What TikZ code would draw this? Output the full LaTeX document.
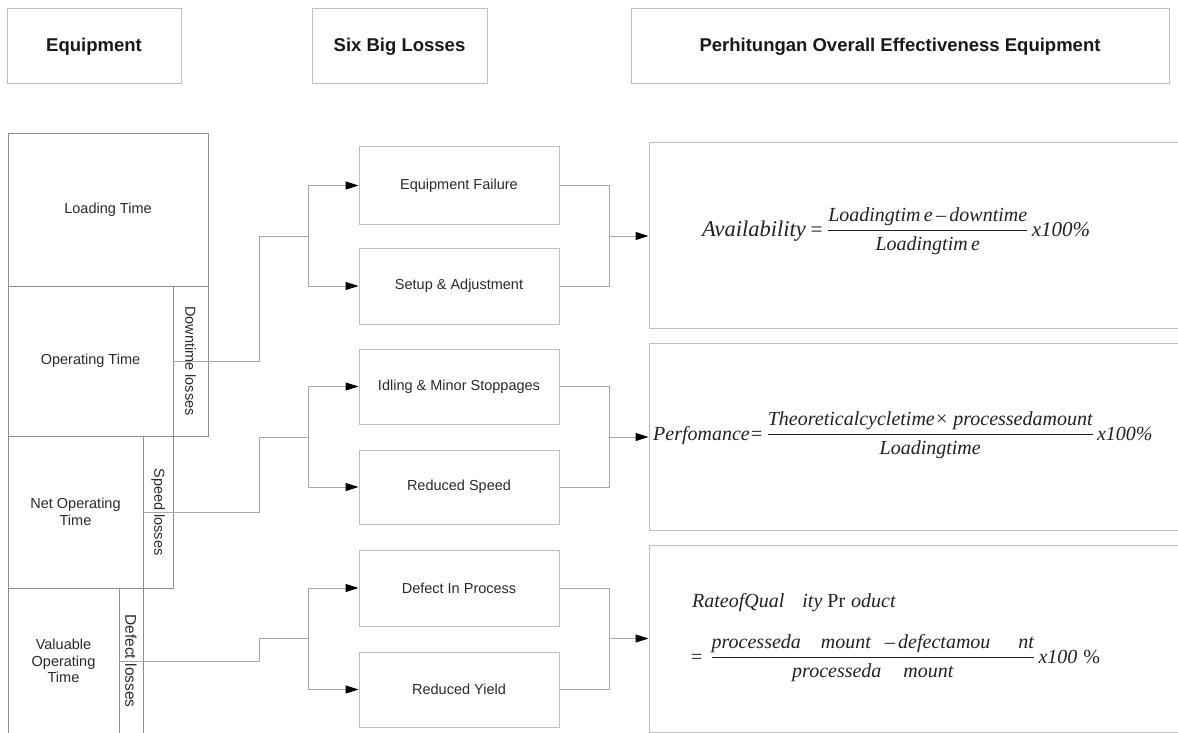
\documentclass[tikz,border=0pt]{standalone}
\usepackage{amsmath}
\usepackage{fontspec}
\setmainfont{Liberation Serif}
\setsansfont{Liberation Sans}
\usetikzlibrary{arrows.meta}
\definecolor{boxline}{HTML}{BDBDBD}
\definecolor{leftline}{HTML}{8C8C8C}
\definecolor{connline}{HTML}{A8A8A8}
\definecolor{txt}{HTML}{2A2A2A}
\definecolor{ftxt}{HTML}{222222}
\begin{document}
\begin{tikzpicture}[x=1pt,y=-1pt,
  hdr/.style={draw=boxline,line width=1pt,inner sep=0pt,font=\sffamily\bfseries\fontsize{18.5}{22}\selectfont,text=black!90},
  lbox/.style={draw=leftline,line width=1pt,inner sep=0pt,align=center,font=\sffamily\fontsize{14.5}{16.5}\selectfont,text=txt},
  mbox/.style={draw=boxline,line width=1pt,inner sep=0pt,font=\sffamily\fontsize{14.5}{17}\selectfont,text=txt},
  formbox/.style={draw=boxline,line width=1pt,inner sep=0pt},
  conn/.style={draw=connline,line width=1pt},
  arr/.style={conn,-{Triangle[length=13pt,width=8pt,color=black]}},
  ftext/.style={inner sep=0pt,text=ftxt,font=\fontsize{20}{24}\selectfont\itshape}
]
\useasboundingbox (0,0) rectangle (1178,733);
\clip (0,0) rectangle (1178,733);
\fill[white] (0,0) rectangle (1178,733);

% headers
\node[hdr,minimum width=174pt,minimum height=75pt] (hEq) at (94,46.5) {Equipment};
\node[hdr,minimum width=175pt,minimum height=75pt] (hSix) at (399.5,46.5) {Six Big Losses};
\node[hdr,minimum width=538pt,minimum height=75pt] (hOEE) at (900,46.5) {Perhitungan Overall Effectiveness Equipment};

% left column
\node[lbox,minimum width=200pt,minimum height=152pt] (load) at (108,210) {Loading Time};
\node[lbox,minimum width=165pt,minimum height=150pt] (op) at (90.5,361) {Operating Time};
\node[lbox,rotate=-90,minimum width=150pt,minimum height=35pt] (dt) at (190.5,361) {Downtime losses};
\node[lbox,minimum width=135pt,minimum height=152pt] (net) at (75.5,512) {Net Operating\\Time};
\node[lbox,rotate=-90,minimum width=152pt,minimum height=30pt] (sp) at (158,512) {Speed losses};
\node[lbox,minimum width=111pt,minimum height=146pt] (val) at (63.5,661) {Valuable\\Operating\\Time};
\node[lbox,rotate=-90,minimum width=146pt,minimum height=24pt,font=\sffamily\fontsize{15.5}{17}\selectfont] (df) at (131,661) {Defect losses};

% six big losses
\node[mbox,minimum width=200pt,minimum height=77pt] (EF) at (459,185.5) {Equipment Failure};
\node[mbox,minimum width=200pt,minimum height=76pt] (SA) at (459,286) {Setup \& Adjustment};
\node[mbox,minimum width=200pt,minimum height=75pt] (IM) at (459,386.5) {Idling \& Minor Stoppages};
\node[mbox,minimum width=200pt,minimum height=74pt] (RS) at (459,487) {Reduced Speed};
\node[mbox,minimum width=200pt,minimum height=76pt] (DP) at (459,588) {Defect In Process};
\node[mbox,minimum width=200pt,minimum height=75pt] (RY) at (459,689.5) {Reduced Yield};

% formula boxes (open to the right)
\node[formbox,minimum width=551pt,minimum height=185pt] (F1) at (924.5,235.5) {};
\node[formbox,minimum width=551pt,minimum height=187pt] (F2) at (924.5,436.5) {};
\node[formbox,minimum width=551pt,minimum height=187pt] (F3) at (924.5,638.5) {};

% junction coordinates
\coordinate (k1) at (259,236);  \coordinate (b1) at (308,236);  \coordinate (m1) at (609,236);
\coordinate (k2) at (259,437);  \coordinate (b2) at (308,437);  \coordinate (m2) at (609,437);
\coordinate (k3) at (259,638.5);\coordinate (b3) at (308,638.5);\coordinate (m3) at (609,638.5);

% connectors group 1
\draw[conn] (dt.south) -| (k1) -- (b1);
\draw[arr] (b1) |- (EF.west);
\draw[arr] (b1) |- (SA.west);
\draw[conn] (EF.east) -| (m1);
\draw[conn] (SA.east) -| (m1);
\draw[arr] (m1) -- (m1 -| F1.west);
% group 2
\draw[conn] (sp.south) -| (k2) -- (b2);
\draw[arr] (b2) |- (IM.west);
\draw[arr] (b2) |- (RS.west);
\draw[conn] (IM.east) -| (m2);
\draw[conn] (RS.east) -| (m2);
\draw[arr] (m2) -- (m2 -| F2.west);
% group 3
\draw[conn] (df.south) -| (k3) -- (b3);
\draw[arr] (b3) |- (DP.west);
\draw[arr] (b3) |- (RY.west);
\draw[conn] (DP.east) -| (m3);
\draw[conn] (RY.east) -| (m3);
\draw[arr] (m3) -- (m3 -| F3.west);

% formulas
\node[ftext,anchor=base west,font=\fontsize{21}{24}\selectfont\itshape] (f1) at (702,236)
  {{\fontsize{22.5}{24}\selectfont Availability}\,=\,$\dfrac{\text{\fontsize{20}{24}\selectfont Loadingtim\,e\,–\,downtime}}{\text{\fontsize{20}{24}\selectfont Loadingtim\,e}}$\,x100\%};
\node[ftext,anchor=base west] (f2) at (653,440)
  {Perfomance=\,$\dfrac{\text{Theoreticalcycletime× processedamount}}{\text{Loadingtime}}$\,x100\%};
\node[ftext,anchor=base west] (f3a) at (692,607)
  {RateofQual\hspace{18pt}ity \textup{Pr}\hspace{6pt}oduct};
\node[ftext,anchor=base west] (f3b) at (691,663)
  {\textup{=}\hspace{8pt}$\dfrac{\text{processeda\hspace{20pt}mount\hspace{14pt}–\,defectamou\hspace{28pt}nt}}{\text{processeda\hspace{22pt}mount}}$\,x100\hspace{6pt}\textup{\%}};
\end{tikzpicture}
\end{document}
